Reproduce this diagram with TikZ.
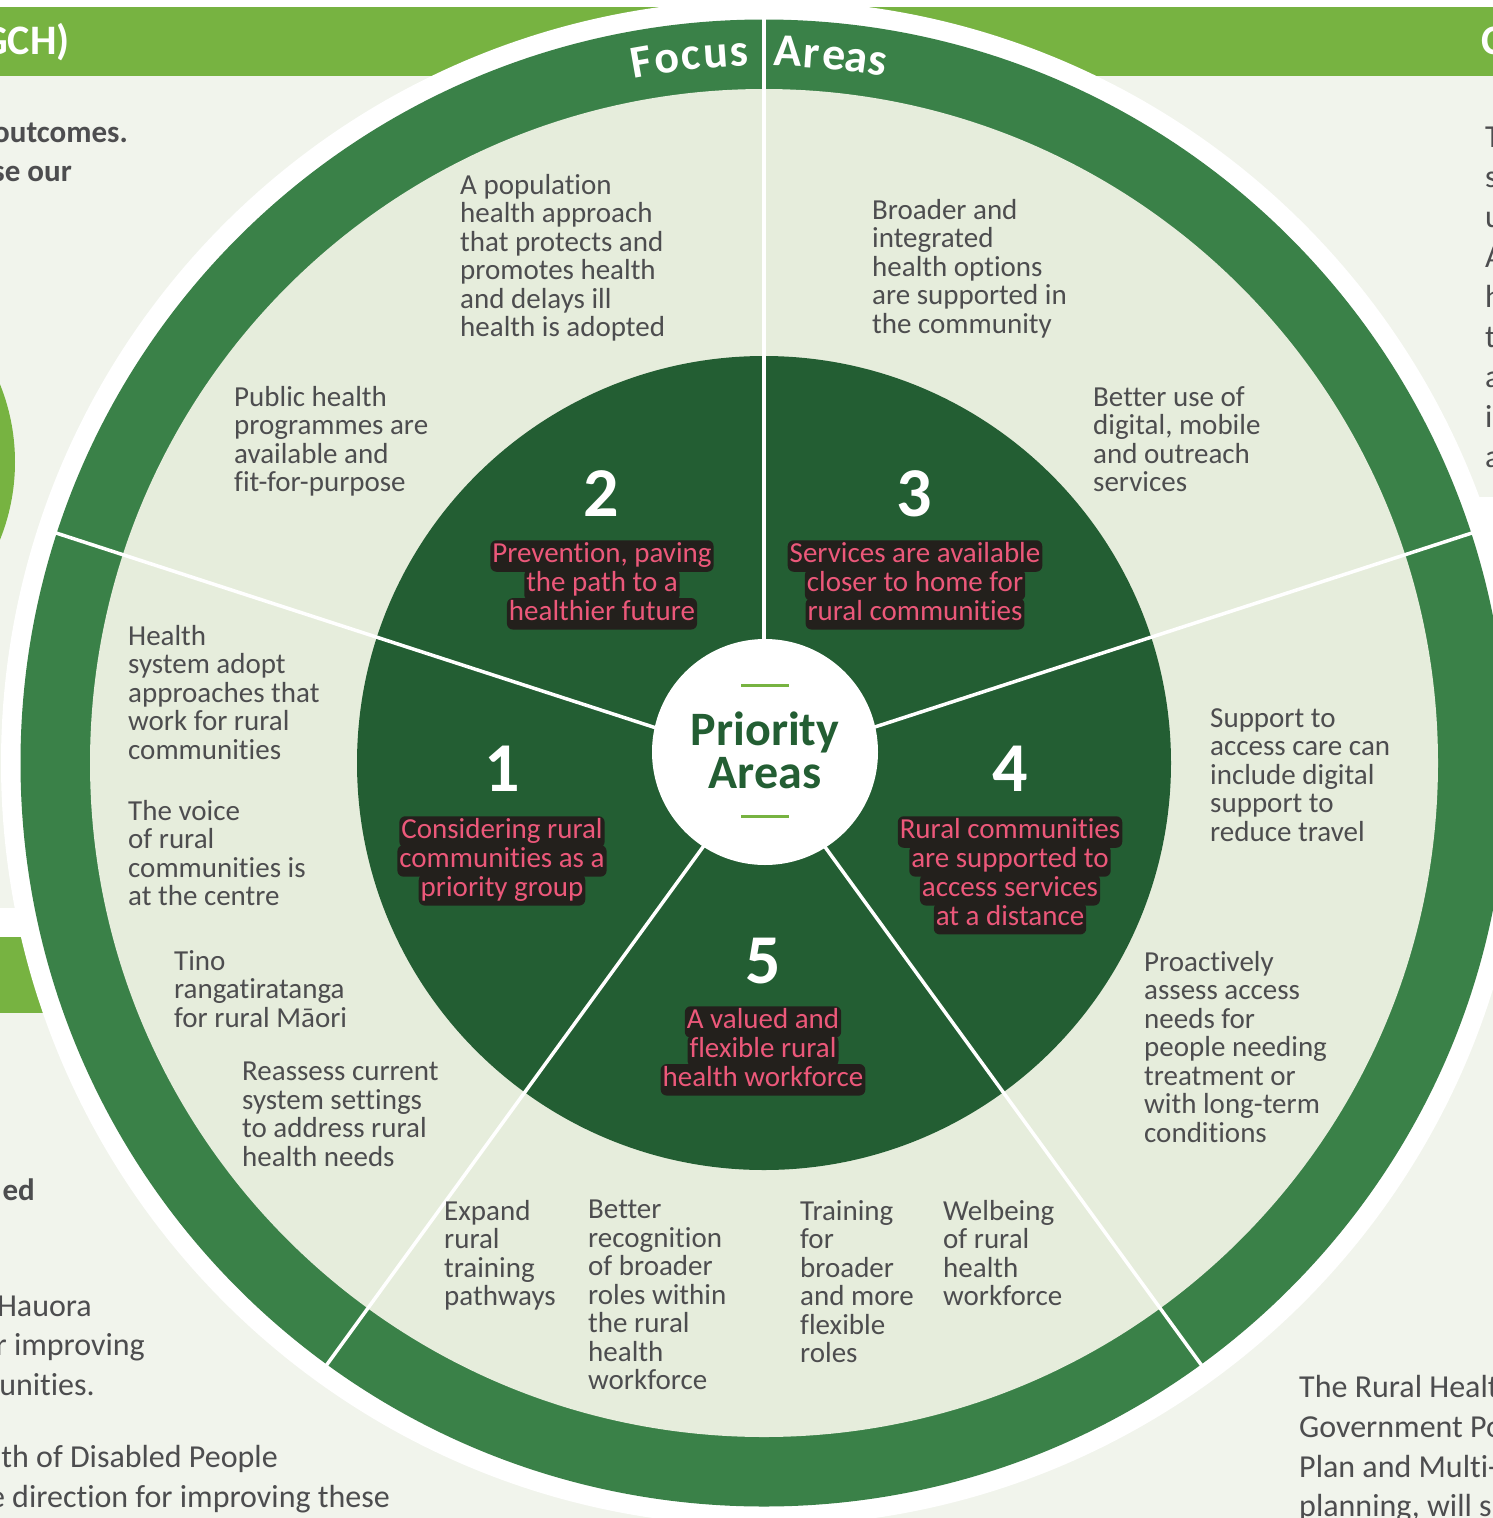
\documentclass[tikz,border=0pt]{standalone}
\usepackage{fontspec}
\setmainfont[Ligatures=NoCommon]{Carlito}
\usepackage{xcolor}
\usepackage{tikz}
\usetikzlibrary{positioning}
\setlength{\lineskiplimit}{-20pt}

\definecolor{pagebg}{RGB}{241,244,236}
\definecolor{leafgreen}{RGB}{119,179,65}
\definecolor{ringgreen}{RGB}{58,129,72}
\definecolor{sectorbg}{RGB}{230,237,220}
\definecolor{deepgreen}{RGB}{35,94,51}
\definecolor{inkgray}{RGB}{77,77,79}
\definecolor{goalpink}{RGB}{236,88,122}
\definecolor{goalbox}{RGB}{35,32,28}

\begin{document}
\begin{tikzpicture}[
  x = 1pt, y = 1pt,
  item/.style = {anchor = north west, align = left, inner sep = 0pt, text = inkgray,
    font = \fontsize{29}{28.5}\selectfont},
  goal/.style = {fill = goalbox, text = goalpink, rounded corners = 6pt,
    inner xsep = 2pt, inner ysep = 2pt, text height = 20.5pt, text depth = 7pt,
    font = \fontsize{29}{30}\selectfont},
  num/.style = {text = white, inner sep = 0pt, font = \fontsize{70}{70}\selectfont\bfseries},
  arcletter/.style = {anchor = base, inner sep = 0pt, text = white,
    font = \fontsize{46}{46}\selectfont\bfseries},
  side/.style = {inner sep = 0pt, text = inkgray, font = \fontsize{32}{32}\selectfont},
  sidebold/.style = {side, font = \fontsize{31}{31}\selectfont\bfseries},
  divider/.style = {white, line width = 3.5pt},
  node distance = -3pt
]
\useasboundingbox (0,0) rectangle (1493,-1518);
\clip (0,0) rectangle (1493,-1518);

% page behind the wheel
\fill[pagebg] (0,0) rectangle (1493,-1518);
\fill[white] (0,0) rectangle (1493,-7);
\fill[leafgreen] (0,-7) rectangle (1493,-76);
\fill[white] (0,-908) rectangle (300,-937);
\fill[leafgreen] (0,-937) rectangle (300,-1013);
\fill[white] (1300,-497) rectangle (1493,-985);
\fill[leafgreen] (-193,-462) circle[radius=208];

\node[anchor = base east, inner sep = 0pt, text = white, font = \fontsize{42}{42}\selectfont\bfseries] (hdl) at (70,-54) {GCH)};
\node[anchor = base west, inner sep = 0pt, text = white, font = \fontsize{42}{42}\selectfont\bfseries] (hdr) at (1481,-54) {C};

\node[sidebold, anchor = base east] (l1) at (128,-142) {outcomes.};
\node[sidebold, anchor = base east] (l2) at (72,-181) {se our};
\node[sidebold, anchor = base east] (l3) at (35,-1200) {ed};
\node[side, anchor = base east] (l4) at (92,-1316) {Hauora};
\node[side, anchor = base east] (l5) at (145,-1355) {r improving};
\node[side, anchor = base east] (l6) at (95,-1395) {unities.};
\node[side, anchor = base east] (l7) at (278,-1467) {th of Disabled People};
\node[side, anchor = base east] (l8) at (390,-1507) {e direction for improving these};

\node[side, anchor = base west] (r1) at (1485,-147) {T};
\node[side, anchor = base west] (r2) at (1485,-187) {s};
\node[side, anchor = base west] (r3) at (1485,-227) {u};
\node[side, anchor = base west] (r4) at (1485,-267) {A};
\node[side, anchor = base west] (r5) at (1485,-307) {h};
\node[side, anchor = base west] (r6) at (1485,-347) {t};
\node[side, anchor = base west] (r7) at (1485,-387) {a};
\node[side, anchor = base west] (r8) at (1485,-427) {i};
\node[side, anchor = base west] (r9) at (1485,-467) {a};

\node[side, anchor = base west] (b1) at (1299,-1397) {The Rural Healt};
\node[side, anchor = base west] (b2) at (1299,-1437) {Government Po};
\node[side, anchor = base west] (b3) at (1299,-1477) {Plan and Multi-};
\node[side, anchor = base west] (b4) at (1299,-1516) {planning, will s};

% the wheel
\begin{scope}[shift={(764,-763)}]
\fill[white] (0,0) circle[radius=763];
\fill[ringgreen] (0,0) circle[radius=743.5];
\fill[sectorbg] (0,0) circle[radius=674];
\fill[deepgreen] (0,0) circle[radius=407];
\draw[divider] (0,0) -- (90:745);
\draw[divider] (0,0) -- (18:745);
\draw[divider] (0,0) -- (-54:745);
\draw[divider] (0,0) -- (-126:745);
\draw[divider] (0,0) -- (162:745);

\node[arcletter, rotate = 9.95] (fa1) at (99.95:697) {F};
\node[arcletter, rotate = 7.87] (fa2) at (97.87:697) {o};
\node[arcletter, rotate = 5.90] (fa3) at (95.90:697) {c};
\node[arcletter, rotate = 3.92] (fa4) at (93.92:697) {u};
\node[arcletter, rotate = 1.98] (fa5) at (91.98:697) {s};
\node[arcletter, rotate = -1.89] (ar1) at (88.11:697) {A};
\node[arcletter, rotate = -3.87] (ar2) at (86.13:697) {r};
\node[arcletter, rotate = -5.66] (ar3) at (84.34:697) {e};
\node[arcletter, rotate = -7.50] (ar4) at (82.50:697) {a};
\node[arcletter, rotate = -9.25] (ar5) at (80.75:697) {s};
\end{scope}

\node[circle, fill = white, minimum size = 226pt, inner sep = 0pt] (prio) at (765,-752) {};
\node[anchor = base, inner sep = 0pt, text = deepgreen, font = \fontsize{48}{48}\selectfont\bfseries] (prio1) at (765,-745) {Priority};
\node[anchor = base, inner sep = 0pt, text = deepgreen, font = \fontsize{48}{48}\selectfont\bfseries] (prio2) at (765,-788) {Areas};
\draw[leafgreen, line width = 3pt] (741,-685) -- (789,-685);
\draw[leafgreen, line width = 3pt] (741,-816) -- (789,-816);

% priority numbers
\node[num] (n1) at (502,-769) {1};
\node[num] (n2) at (601,-494) {2};
\node[num] (n3) at (914,-494) {3};
\node[num] (n4) at (1010,-769) {4};
\node[num] (n5) at (763,-961) {5};

% priority goals
\node[goal] (g2a) at (602,-556) {Prevention, paving};
\node[goal, below = of g2a] (g2b) {the path to a};
\node[goal, below = of g2b] (g2c) {healthier future};

\node[goal] (g3a) at (915,-556) {Services are available};
\node[goal, below = of g3a] (g3b) {closer to home for};
\node[goal, below = of g3b] (g3c) {rural communities};

\node[goal] (g1a) at (502,-832) {Considering rural};
\node[goal, below = of g1a] (g1b) {communities as a};
\node[goal, below = of g1b] (g1c) {priority group};

\node[goal] (g4a) at (1010,-832) {Rural communities};
\node[goal, below = of g4a] (g4b) {are supported to};
\node[goal, below = of g4b] (g4c) {access services};
\node[goal, below = of g4c] (g4d) {at a distance};

\node[goal] (g5a) at (763,-1022) {A valued and};
\node[goal, below = of g5a] (g5b) {flexible rural};
\node[goal, below = of g5b] (g5c) {health workforce};

% focus area items
\node[item] (popn) at (460,-174) {A population\\health approach\\that protects and\\promotes health\\and delays ill\\health is adopted};
\node[item] (pubh) at (234,-386) {Public health\\programmes are\\available and\\fit-for-purpose};
\node[item] (broad) at (872,-199) {Broader and\\integrated\\health options\\are supported in\\the community};
\node[item] (digi) at (1093,-386) {Better use of\\digital, mobile\\and outreach\\services};
\node[item] (supp) at (1210,-708) {Support to\\access care can\\include digital\\support to\\reduce travel};
\node[item] (proact) at (1144,-951) {Proactively\\assess access\\needs for\\people needing\\treatment or\\with long-term\\conditions};
\node[item] (expand) at (444,-1200) {Expand\\rural\\training\\pathways};
\node[item] (recog) at (588,-1200) {Better\\recognition\\of broader\\roles within\\the rural\\health\\workforce};
\node[item] (train) at (800,-1200) {Training\\for\\broader\\and more\\flexible\\roles};
\node[item] (welb) at (943,-1200) {Welbeing\\of rural\\health\\workforce};
\node[item] (hsys) at (128,-625) {Health\\system adopt\\approaches that\\work for rural\\communities};
\node[item] (voice) at (128,-800) {The voice\\of rural\\communities is\\at the centre};
\node[item] (tino) at (174,-950) {Tino\\rangatiratanga\\for rural Māori};
\node[item] (reas) at (242,-1062) {Reassess current\\system settings\\to address rural\\health needs};
\end{tikzpicture}
\end{document}
